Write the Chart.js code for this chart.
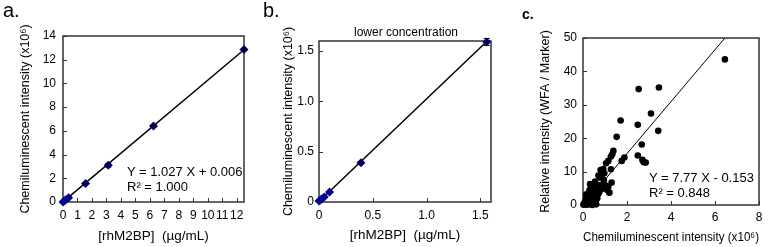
<!DOCTYPE html>
<html>
<head>
<meta charset="utf-8">
<script src="https://cdn.jsdelivr.net/npm/chart.js@4.4.1/dist/chart.umd.min.js"></script>
<style>
  body { margin: 0; background: #fff; }
  #wrap { position: relative; width: 768px; height: 247px; font-family: Arial, "Liberation Sans", sans-serif; color: #000; }
  .pane { position: absolute; top: 0; width: 256px; height: 247px; }
  .lbl { position: absolute; white-space: pre; }
</style>
</head>
<body>
<div id="wrap">
  <div class="pane" style="left:0px"><canvas id="chartA"></canvas></div>
  <div class="pane" style="left:256px"><canvas id="chartB"></canvas></div>
  <div class="pane" style="left:512px"><canvas id="chartC"></canvas></div>

  <div class="lbl" style="left:3px;top:0px;font-size:20px;line-height:20px">a.</div>
  <div class="lbl" style="left:263px;top:0px;font-size:20px;line-height:20px">b.</div>
  <div class="lbl" style="left:522px;top:7px;font-size:14px;line-height:14px;font-weight:bold">c.</div>

  <div class="lbl" style="left:406px;top:25px;font-size:12px;line-height:14px;transform:translateX(-50%)">lower concentration</div>

  <div class="lbl" style="left:127px;top:164px;font-size:13px;line-height:15px">Y = 1.027 X + 0.006
R² = 1.000</div>
  <div class="lbl" style="left:649px;top:170px;font-size:13px;line-height:15px">Y = 7.77 X - 0.153
R² = 0.848</div>
</div>

<script>
// ---------- panel a: standard curve ----------
const aX = [0, 0.1, 0.2, 0.39, 1.56, 3.125, 6.25, 12.5];
const aY = [0, 0.1, 0.2, 0.35, 1.55, 3.1, 6.4, 12.87];
const aErr = [0, 0, 0, 0, 0.05, 0.15, 0.08, 0.08];
const aLineX = [0, 12.5];
const aLineY = [0.006, 12.844];
const aXTicks = [0, 1, 2, 3, 4, 5, 6, 7, 8, 9, 10, 11, 12];
const aYTicks = [0, 2, 4, 6, 8, 10, 12, 14];

// ---------- panel b: lower concentration ----------
const bX = [0, 0.012, 0.024, 0.049, 0.098, 0.39, 1.56];
const bY = [0.01, 0.02, 0.03, 0.05, 0.1, 0.39, 1.59];
const bErr = [0, 0, 0, 0, 0, 0.01, 0.035];
const bLineX = [0, 1.5625];
const bLineY = [0.005, 1.598];
const bXTicks = [0, 0.5, 1, 1.5];
const bYTicks = [0, 0.5, 1, 1.5];
const bYLabels = ["0", "0.5", "1.0", "1.5"];

// ---------- panel c: correlation ----------
const cX = [0.02, 0.05, 0.08, 0.1, 0.1, 0.12, 0.15, 0.15, 0.18, 0.2, 0.2, 0.22, 0.25, 0.25, 0.28,
  0.3, 0.3, 0.32, 0.33, 0.35, 0.35, 0.38, 0.4, 0.4, 0.42, 0.42, 0.45, 0.45, 0.48, 0.5,
  0.5, 0.52, 0.55, 0.55, 0.58, 0.6, 0.6, 0.6, 0.62, 0.65, 0.68, 0.7, 0.7, 0.72, 0.75,
  0.77, 0.8, 0.8, 0.85, 0.9, 0.92, 0.95, 1.0, 1.05, 1.1, 1.15, 1.15, 1.2, 1.27, 1.27,
  1.3, 1.33, 1.38, 0.85, 0.97, 0.65, 0.55, 0.35, 0.15, 0.45,
  1.53, 1.71, 1.76, 1.88, 2.49, 2.53, 2.49, 2.67, 2.7, 2.76, 2.85, 3.09, 3.42, 3.45, 6.45];
const cY = [0.1, 0.3, 0.8, 0.2, 1.0, 1.5, 0.5, 2.2, 1.0, 0.1, 3.0, 1.8, 0.6, 2.6, 3.8,
  1.2, 4.5, 6.3, 2.0, 0.3, 3.3, 1.6, 4.0, 2.5, 0.8, 0.0, 5.0, 3.0, 1.8, 6.2,
  4.2, 2.6, 7.0, 3.5, 1.2, 5.5, 4.0, 0.2, 2.8, 6.0, 4.6, 3.4, 8.8, 5.2, 4.0,
  8.2, 10.5, 6.0, 4.8, 5.5, 10.8, 7.5, 6.0, 12.5, 4.5, 5.5, 13.2, 3.7, 10.7, 14.5,
  6.7, 15.2, 16.2, 8.3, 9.5, 2.0, 5.8, 5.0, 3.2, 1.0,
  20.4, 25.3, 13.2, 14.2, 24.0, 34.7, 14.8, 18.1, 13.5, 12.8, 12.7, 27.4, 22.2, 35.2, 43.6];
const cLineX = [0.02, 6.45];
const cLineY = [0, 50];
const cXTicks = [0, 2, 4, 6, 8];
const cYTicks = [0, 10, 20, 30, 40, 50];

const FONT = "Arial, 'Liberation Sans', sans-serif";

function pairs(xs, ys) {
  return xs.map((x, i) => ({ x: x, y: ys[i] }));
}

// frame + inward tick marks, Excel style
const framePlugin = {
  id: "framePlugin",
  beforeDatasetsDraw(chart) {
    const { ctx, chartArea: ca } = chart;
    const sx = chart.scales.x, sy = chart.scales.y;
    ctx.save();
    ctx.strokeStyle = "#333";
    ctx.lineWidth = 1;
    ctx.beginPath();
    sx.ticks.forEach(t => {
      const px = Math.round(sx.getPixelForValue(t.value)) + 0.5;
      ctx.moveTo(px, ca.bottom);
      ctx.lineTo(px, ca.bottom - 4);
    });
    sy.ticks.forEach(t => {
      const py = Math.round(sy.getPixelForValue(t.value)) + 0.5;
      ctx.moveTo(ca.left, py);
      ctx.lineTo(ca.left + 4, py);
    });
    ctx.stroke();
    ctx.lineWidth = 1.5;
    ctx.strokeRect(ca.left, ca.top, ca.right - ca.left, ca.bottom - ca.top);
    ctx.restore();
  },
  afterDatasetsDraw(chart) {
    const eb = chart.options.plugins.errBars;
    if (!eb || !eb.err) return;
    const { ctx } = chart;
    const sx = chart.scales.x, sy = chart.scales.y;
    ctx.save();
    ctx.strokeStyle = "#000";
    ctx.lineWidth = 1;
    eb.err.forEach((e, i) => {
      if (!e) return;
      const px = sx.getPixelForValue(eb.x[i]);
      const p1 = sy.getPixelForValue(eb.y[i] - e);
      const p2 = sy.getPixelForValue(eb.y[i] + e);
      ctx.beginPath();
      ctx.moveTo(px, p1); ctx.lineTo(px, p2);
      ctx.moveTo(px - 3, p1); ctx.lineTo(px + 3, p1);
      ctx.moveTo(px - 3, p2); ctx.lineTo(px + 3, p2);
      ctx.stroke();
    });
    ctx.restore();
  }
};

function makePanel(id, o) {
  return new Chart(document.getElementById(id), {
    type: "scatter",
    data: {
      datasets: [
        {
          data: pairs(o.xs, o.ys),
          pointStyle: o.style,
          pointRadius: o.r,
          backgroundColor: o.color,
          borderColor: o.color,
          borderWidth: 0,
          clip: false
        },
        {
          data: pairs(o.lineX, o.lineY),
          showLine: true,
          borderColor: "#000",
          borderWidth: o.lineW,
          pointRadius: 0,
          clip: false
        }
      ]
    },
    options: {
      responsive: true,
      maintainAspectRatio: false,
      animation: false,
      layout: { padding: { left: 0, right: o.padR, top: o.padT, bottom: 0 } },
      plugins: {
        legend: { display: false },
        tooltip: { enabled: false },
        errBars: { x: o.xs, y: o.ys, err: o.err }
      },
      scales: {
        x: {
          type: "linear",
          min: o.xMin, max: o.xMax,
          afterBuildTicks: s => { s.ticks = o.xTicks.map(v => ({ value: v })); },
          afterFit: s => { s.height = o.xH; },
          grid: { display: false, drawTicks: false },
          border: { display: false },
          ticks: { color: "#000", padding: o.xTickPad, font: { family: FONT, size: 12 }, maxRotation: 0, autoSkip: false },
          title: { display: true, text: o.xTitle, color: "#000", font: { family: FONT, size: o.xTitleSize }, padding: { top: 0, bottom: o.xTitlePad } }
        },
        y: {
          type: "linear",
          min: o.yMin, max: o.yMax,
          afterBuildTicks: s => { s.ticks = o.yTicks.map(v => ({ value: v })); },
          afterFit: s => { s.width = o.yW; },
          grid: { display: false, drawTicks: false },
          border: { display: false },
          ticks: {
            color: "#000", padding: o.yTickPad, font: { family: FONT, size: 12 }, autoSkip: false,
            callback: (v, i) => o.yLabels ? o.yLabels[i] : v
          },
          title: { display: true, text: o.yTitle, color: "#000", font: { family: FONT, size: 12.5 }, padding: { top: o.yTitlePad, bottom: 0 } }
        }
      }
    },
    plugins: [framePlugin]
  });
}

makePanel("chartA", {
  xs: aX, ys: aY, err: aErr, lineX: aLineX, lineY: aLineY,
  style: "rectRot", r: 4.5, color: "#00008b", lineW: 1.5,
  xMin: 0, xMax: 12.5, yMin: 0, yMax: 14, xTicks: aXTicks, yTicks: aYTicks,
  padR: 12, padT: 36, xH: 45, yW: 63, xTickPad: 6, yTickPad: 7,
  xTitle: "[rhM2BP]  (µg/mL)", xTitleSize: 13.5, xTitlePad: 3,
  yTitle: "Chemiluminescent intensity (x10⁶)", yTitlePad: 18
});

makePanel("chartB", {
  xs: bX, ys: bY, err: bErr, lineX: bLineX, lineY: bLineY,
  style: "rectRot", r: 4.5, color: "#00008b", lineW: 1.5,
  xMin: 0, xMax: 1.6, yMin: 0, yMax: 1.6, xTicks: bXTicks, yTicks: bYTicks, yLabels: bYLabels,
  padR: 21, padT: 41, xH: 45, yW: 63, xTickPad: 6, yTickPad: 5,
  xTitle: "[rhM2BP]  (µg/mL)", xTitleSize: 13.5, xTitlePad: 4,
  yTitle: "Chemiluminescent intensity (x10⁶)", yTitlePad: 25
});

makePanel("chartC", {
  xs: cX, ys: cY, err: null, lineX: cLineX, lineY: cLineY,
  style: "circle", r: 3.3, color: "#000", lineW: 1,
  xMin: 0, xMax: 8, yMin: 0, yMax: 50, xTicks: cXTicks, yTicks: cYTicks,
  padR: 9, padT: 38, xH: 42, yW: 71, xTickPad: 5, yTickPad: 6,
  xTitle: "Chemiluminescent intensity (x10⁶)", xTitleSize: 12, xTitlePad: 2,
  yTitle: "Relative intensity (WFA / Marker)", yTitlePad: 26
});
</script>
</body>
</html>
